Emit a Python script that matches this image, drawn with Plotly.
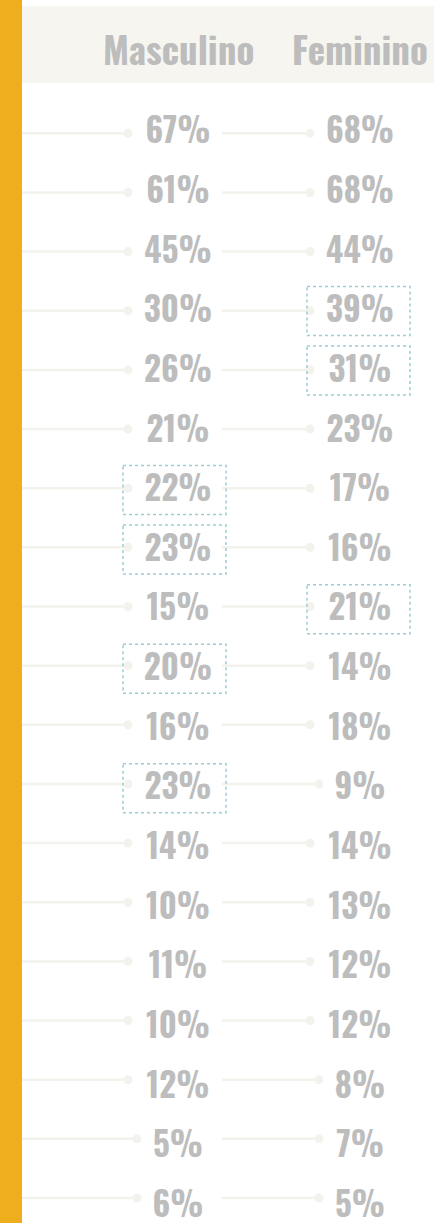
import plotly.graph_objects as go

# ── 데이터 ──────────────────────────────────────────────
columns = ["Masculino", "Feminino"]
masculino = [67, 61, 45, 30, 26, 21, 22, 23, 15, 20, 16, 23, 14, 10, 11, 10, 12, 5, 6]
feminino = [68, 68, 44, 39, 31, 23, 17, 16, 21, 14, 18, 9, 14, 13, 12, 12, 8, 7, 5]
# 점선 박스로 강조된 칸 (행 번호)
destaque_masculino = [6, 7, 9, 11]
destaque_feminino = [3, 4, 8]

# ── 레이아웃 값 ──────────────────────────────────────────
W, H = 434, 1223
LINE_Y0, LINE_STEP = 133.3, 59.15     # 선/점 행 간격 (px)
TEXT_Y0, TEXT_STEP = 135.0, 59.65     # 글자 행 간격 (px) — 원본에서 약간 다름
col_x = [178, 360]          # 열 중심 (px)
line_start = [22, 222]
box_x = [(123, 226), (307, 410)]
TEXT = "#bdbdbd"
LINE = "#f3f2ec"
TEAL = "#9ccdd3"
FONT = "Oswald, DejaVu Sans Condensed, Liberation Sans Narrow, sans-serif"

n = len(masculino)
rows = list(range(n))


def text_w(v):
    return 18 * len(str(v)) + 26


fig = go.Figure()

for ci, (vals, hl) in enumerate([(masculino, destaque_masculino), (feminino, destaque_feminino)]):
    cx = col_x[ci]
    dots = [cx - text_w(v) / 2 - 19 for v in vals]
    lx, ly = [], []
    for r, d in zip(rows, dots):
        lx += [line_start[ci], d, None]
        ly += [r, r, None]
    fig.add_trace(go.Scatter(x=lx, y=ly, mode="lines",
                             line=dict(color=LINE, width=2.5), hoverinfo="skip"))
    fig.add_trace(go.Scatter(x=dots, y=rows, mode="markers",
                             marker=dict(color=LINE, size=9), hoverinfo="skip"))
    fig.add_trace(go.Scatter(x=[cx] * n, y=rows, yaxis="y2", mode="text",
                             text=[f"{v}%" for v in vals],
                             textposition="middle center",
                             textfont=dict(family=FONT, size=33, color=TEXT, weight="bold"),
                             hoverinfo="skip"))
    half = 24.5 / TEXT_STEP
    shift = -3 / TEXT_STEP
    for r in hl:
        fig.add_shape(type="rect", xref="x", yref="y2",
                      x0=box_x[ci][0], x1=box_x[ci][1],
                      y0=r + shift - half, y1=r + shift + half,
                      line=dict(color=TEAL, width=1.5, dash="dot"))

# 헤더 띠 + 왼쪽 주황 막대
fig.add_shape(type="rect", xref="x", yref="paper", x0=22, x1=W,
              y0=1 - 83 / H, y1=1 - 6 / H, fillcolor="#f6f5f0",
              line_width=0, layer="below")
fig.add_shape(type="rect", xref="x", yref="paper", x0=0, x1=22, y0=0, y1=1,
              fillcolor="#efae1d", line_width=0)

for cx, name in zip(col_x, columns):
    fig.add_annotation(x=cx, y=1 - 48 / H, xref="x", yref="paper", text=name,
                       showarrow=False, yanchor="middle", xanchor="center",
                       font=dict(family=FONT, size=37, color=TEXT, weight="bold"))

fig.update_layout(
    width=W, height=H, margin=dict(l=0, r=0, t=0, b=0),
    plot_bgcolor="white", paper_bgcolor="white", showlegend=False,
    xaxis=dict(range=[0, W], visible=False, fixedrange=True),
    yaxis=dict(range=[(H - LINE_Y0) / LINE_STEP, -LINE_Y0 / LINE_STEP],
               visible=False, fixedrange=True),
    yaxis2=dict(range=[(H - TEXT_Y0) / TEXT_STEP, -TEXT_Y0 / TEXT_STEP],
                overlaying="y", visible=False, fixedrange=True),
)

fig.write_html("out.html", config={"displayModeBar": False},
               post_script="document.body.style.margin='0';")
